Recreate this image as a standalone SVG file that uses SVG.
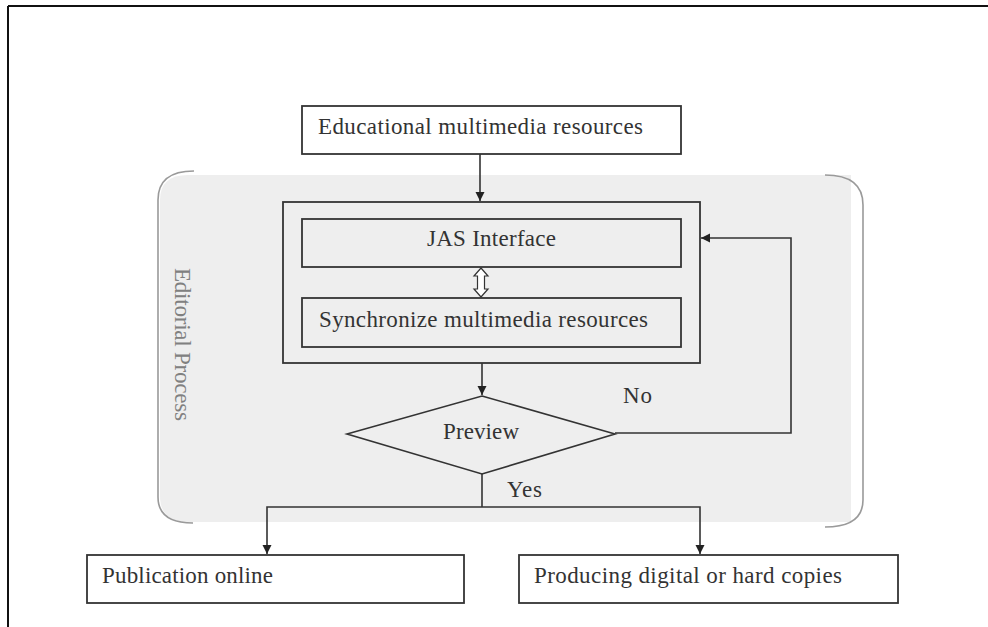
<svg xmlns="http://www.w3.org/2000/svg" width="988" height="627" viewBox="0 0 988 627">
<style>
.box{fill:#ffffff;stroke:#333333;stroke-width:1.8}
.inner{fill:none;stroke:#333333;stroke-width:1.8}
.t{font-family:"Liberation Serif","Times New Roman",serif;font-size:23px;fill:#333333}
.c{stroke:#333333;stroke-width:1.6;fill:none}
.br{fill:none;stroke:#9a9a9a;stroke-width:1.6}
</style>
<defs>
<marker id="ah" markerWidth="10" markerHeight="10" refX="9" refY="5" orient="auto" markerUnits="userSpaceOnUse">
<path d="M0,0.5 L9,5 L0,9.5 Z" fill="#222222"/>
</marker>
</defs>
<rect width="988" height="627" fill="#ffffff"/>
<g id="frame">
<path d="M8,6 H988 M8,6 V627" stroke="#111111" stroke-width="2" fill="none"/>
</g>
<g id="editorial-region">
<path d="M188,175 H851 V522 H188 Q160,522 160,496 V200 Q160,175 188,175 Z" fill="#eeeeee"/>
<path class="br" d="M194,171 Q158,171 158,200 V497 Q158,523 193,523"/>
<path class="br" d="M825,175 Q863,175 863,205 V500 Q863,527 825,527"/>
<text class="t" transform="translate(175,268) rotate(90)" style="fill:#808080" textLength="153">Editorial Process</text>
</g>
<g id="educational-resources">
<rect class="box" x="302" y="106" width="379" height="48"/>
<text class="t" x="318" y="134" textLength="325">Educational multimedia resources</text>
</g>
<g id="editor-box">
<rect class="inner" x="283" y="202" width="417" height="161"/>
</g>
<g id="jas-interface">
<rect class="inner" x="302" y="219" width="379" height="48"/>
<text class="t" x="427" y="246" textLength="129">JAS Interface</text>
</g>
<g id="synchronize">
<rect class="inner" x="302" y="298" width="379" height="49"/>
<text class="t" x="319" y="327" textLength="329">Synchronize multimedia resources</text>
</g>
<g id="preview">
<polygon points="482,396 615,434 482,474 347,434" fill="#eeeeee" stroke="#333333" stroke-width="1.6"/>
<text class="t" x="443" y="439" textLength="76">Preview</text>
</g>
<g id="publication-online">
<rect class="box" x="87" y="555" width="377" height="48"/>
<text class="t" x="102" y="583" textLength="171">Publication online</text>
</g>
<g id="producing-copies">
<rect class="box" x="519" y="555" width="379" height="48"/>
<text class="t" x="534" y="583" textLength="308">Producing digital or hard copies</text>
</g>
<g id="connectors">
<line class="c" x1="480" y1="154" x2="480" y2="201" marker-end="url(#ah)"/>
<polygon points="481,268 488,276 484.5,276 484.5,289 488,289 481,297 474,289 477.5,289 477.5,276 474,276" fill="#ffffff" stroke="#333333" stroke-width="1.2"/>
<line class="c" x1="482" y1="363" x2="482" y2="395" marker-end="url(#ah)"/>
<polyline class="c" points="615,433 791,433 791,238 701,238" marker-end="url(#ah)"/>
<line class="c" x1="482" y1="474" x2="482" y2="507"/>
<polyline class="c" points="482,507 267,507 267,554" marker-end="url(#ah)"/>
<polyline class="c" points="482,507 700,507 700,554" marker-end="url(#ah)"/>
<text class="t" x="623" y="403" textLength="29">No</text>
<text class="t" x="507" y="497" textLength="35">Yes</text>
</g>
</svg>
